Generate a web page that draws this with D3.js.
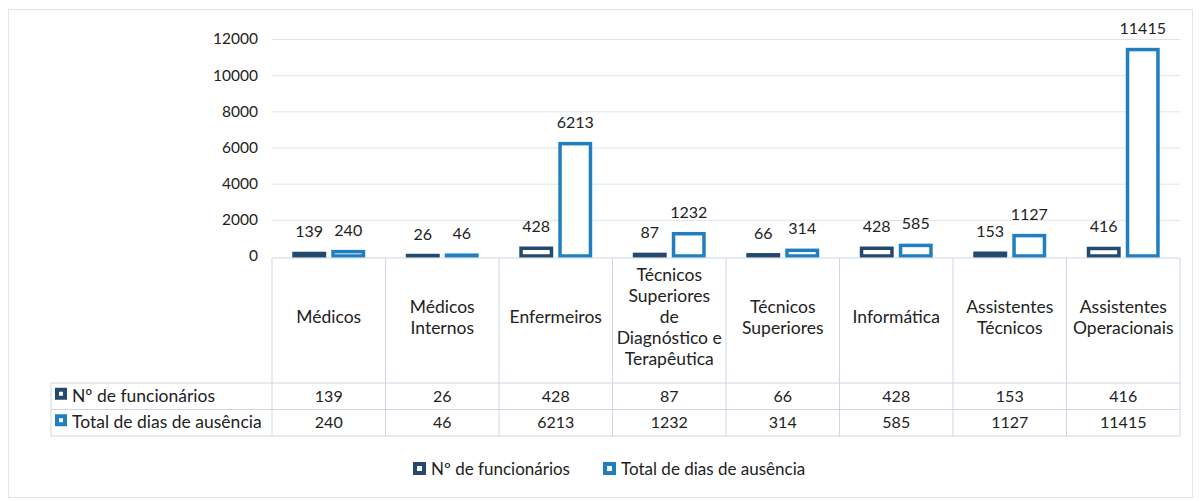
<!doctype html>
<html>
<head>
<meta charset="UTF-8">
<script src="https://cdn.jsdelivr.net/npm/d3@7"></script>
<style>
  body { margin: 0; background: #fff; }
  svg text { font-family: Lato, "Open Sans", sans-serif; fill: #222; }
</style>
</head>
<body>
<div id="chart"></div>
<script>
// data
var categories = [
  ["Médicos"],
  ["Médicos", "Internos"],
  ["Enfermeiros"],
  ["Técnicos", "Superiores", "de", "Diagnóstico e", "Terapêutica"],
  ["Técnicos", "Superiores"],
  ["Informática"],
  ["Assistentes", "Técnicos"],
  ["Assistentes", "Operacionais"]
];
var seriesNames = ["Nº de funcionários", "Total de dias de ausência"];
var funcionarios = [139, 26, 428, 87, 66, 428, 153, 416];
var diasAusencia = [240, 46, 6213, 1232, 314, 585, 1127, 11415];
var yTicks = [0, 2000, 4000, 6000, 8000, 10000, 12000];
var colors = ["#23496f", "#1f7fc1"];

var W = 1199, H = 501;
var svg = d3.select("#chart").append("svg")
  .attr("width", W)
  .attr("height", H);

// outer frame
svg.append("rect")
  .attr("x", 8.5).attr("y", 9.5)
  .attr("width", W - 15).attr("height", H - 13)
  .attr("fill", "none")
  .attr("stroke", "#e0e5eb");

var left = 272, right = 1180, tableLeft = 51;
var idx = d3.range(categories.length);

var x = d3.scaleBand().domain(idx).range([left, right]);
var xs = d3.scaleBand().domain([0, 1]).range([0, x.bandwidth()])
  .paddingInner(0.13).paddingOuter(0.52);
var y = d3.scaleLinear().domain([0, 12000]).range([256, 39]);

// gridlines
svg.append("g")
  .selectAll("line")
  .data(yTicks.slice(1))
  .enter()
  .append("line")
    .attr("x1", left).attr("x2", right)
    .attr("y1", d => y(d) + 0.5).attr("y2", d => y(d) + 0.5)
    .attr("stroke", "#dfe3e8");

// y axis labels
var yAxis = svg.append("g")
  .attr("transform", "translate(" + (left - 14) + ",0)")
  .call(d3.axisLeft(y).tickValues(yTicks).tickSize(0).tickPadding(0).tickFormat(d3.format("d")));
yAxis.select(".domain").remove();
yAxis.selectAll("text")
  .style("font-size", "15.5px")
  .style("font-family", "Lato, sans-serif")
  .attr("fill", "#222");

// bars
var series = [funcionarios, diasAusencia];
var sw = 3.5;
series.forEach(function (vals, s) {
  var g = svg.append("g");
  g.selectAll("rect")
    .data(vals)
    .enter()
    .append("rect")
      .attr("x", (d, i) => x(i) + xs(s) + sw / 2)
      .attr("width", xs.bandwidth() - sw)
      .attr("y", d => y(d))
      .attr("height", d => y(0) - y(d))
      .attr("fill", "#fff")
      .attr("stroke", colors[s])
      .attr("stroke-width", sw);
  g.selectAll("text")
    .data(vals)
    .enter()
    .append("text")
      .attr("x", (d, i) => x(i) + xs(s) + xs.bandwidth() / 2)
      .attr("y", d => y(d) - 16)
      .attr("text-anchor", "middle")
      .style("font-size", "16px")
      .text(d => d);
});

// data table
var rowTop = 383, rowH = 26.5, headTop = 258;
var grid = svg.append("g").attr("stroke", "#cdd6e3").attr("fill", "none");
grid.append("line").attr("x1", left).attr("x2", right).attr("y1", headTop).attr("y2", headTop);
[0, 1, 2].forEach(function (r) {
  grid.append("line")
    .attr("x1", tableLeft).attr("x2", right)
    .attr("y1", rowTop + r * rowH).attr("y2", rowTop + r * rowH);
});
grid.append("line").attr("x1", tableLeft).attr("x2", tableLeft)
  .attr("y1", rowTop).attr("y2", rowTop + 2 * rowH);
grid.selectAll(".v")
  .data(idx.concat([categories.length]))
  .enter()
  .append("line")
    .attr("x1", d => d < categories.length ? x(d) : right)
    .attr("x2", d => d < categories.length ? x(d) : right)
    .attr("y1", headTop).attr("y2", rowTop + 2 * rowH);

// header (category names)
var head = svg.append("g");
categories.forEach(function (lines, i) {
  var lh = 21, cy = 317;
  var t = head.append("text")
    .attr("text-anchor", "middle")
    .style("font-size", "17.5px");
  lines.forEach(function (ln, k) {
    t.append("tspan")
      .attr("x", x(i) + x.bandwidth() / 2)
      .attr("y", cy + (k - (lines.length - 1) / 2) * lh + 6)
      .text(ln);
  });
});

// table rows
series.forEach(function (vals, s) {
  var ty = rowTop + s * rowH + rowH / 2 + 5.5;
  svg.append("rect")
    .attr("x", 57).attr("y", ty - 12)
    .attr("width", 8).attr("height", 8)
    .attr("fill", "#fff").attr("stroke", colors[s]).attr("stroke-width", 4);
  svg.append("text")
    .attr("x", 72).attr("y", ty)
    .style("font-size", "17.5px")
    .text(seriesNames[s]);
  svg.append("g").selectAll("text")
    .data(vals)
    .enter()
    .append("text")
      .attr("x", (d, i) => x(i) + x.bandwidth() / 2)
      .attr("y", ty)
      .attr("text-anchor", "middle")
      .style("font-size", "16px")
      .text(d => d);
});

// legend
var legendX = [413, 603];
seriesNames.forEach(function (name, s) {
  var lg = svg.append("g").attr("transform", "translate(" + legendX[s] + ",469)");
  lg.append("rect")
    .attr("x", 2).attr("y", -5)
    .attr("width", 9).attr("height", 9)
    .attr("fill", "#fff").attr("stroke", colors[s]).attr("stroke-width", 4);
  lg.append("text")
    .attr("x", 18).attr("y", 6)
    .style("font-size", "17px")
    .text(name);
});
</script>
</body>
</html>
